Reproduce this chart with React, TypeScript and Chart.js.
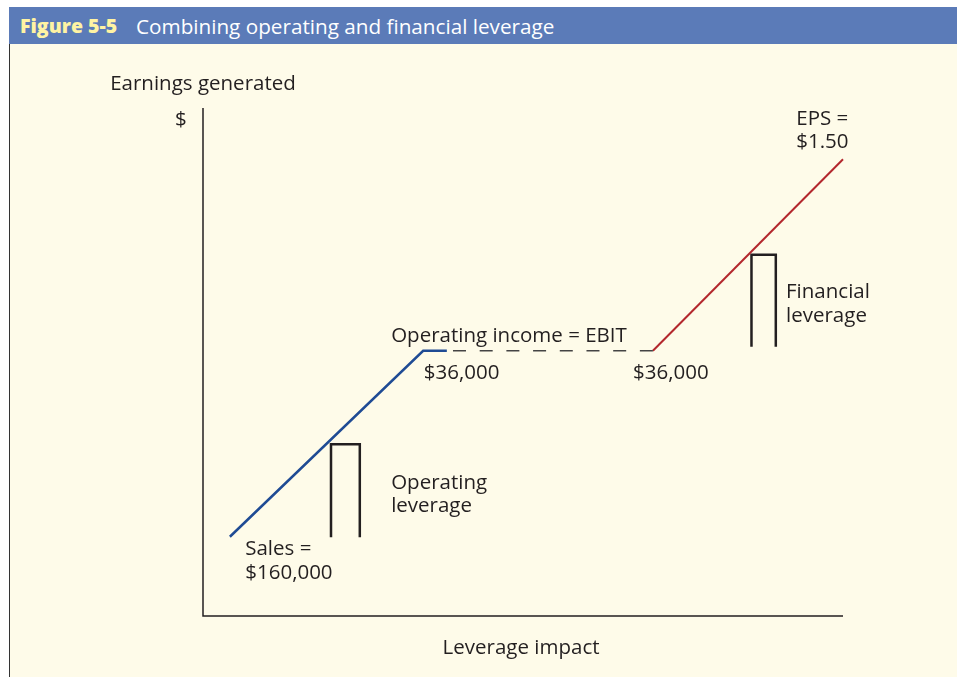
import React, { useEffect, useRef } from "react";
import { Chart, registerables } from "chart.js";

Chart.register(...registerables);

// Abstract "leverage impact" (x) and "earnings generated" (y) units, 0..100
const operatingX = [4.2, 34.4, 38.1];
const operatingY = [15.6, 52.2, 52.2];
const ebitX = [39.06, 70.3];
const ebitY = [52.2, 52.2];
const financialX = [70.3, 100];
const financialY = [52.2, 89.9];
const opBracketX = [20, 20, 24.5, 24.5];
const opBracketY = [15.5, 33.8, 33.8, 15.5];
const finBracketX = [85.7, 85.7, 89.5, 89.5];
const finBracketY = [53.0, 71.1, 71.1, 53.0];

const labelTexts = [
  "Earnings generated",
  "$",
  "Leverage impact",
  "Operating income = EBIT",
  "$36,000",
  "$36,000",
  "Operating",
  "leverage",
  "Sales =",
  "$160,000",
  "EPS =",
  "$1.50",
  "Financial",
  "leverage",
];
const labelX = [-14.5, -3.45, 49.7, 29.4, 34.5, 67.2, 29.4, 29.4, 6.6, 6.6, 92.7, 92.7, 91.1, 91.1];
const labelY = [104.6, 97.6, -6.4, 55.0, 47.9, 47.9, 26.1, 21.6, 13.1, 8.4, 97.9, 93.2, 63.7, 59.0];
const labelAlign = ["left", "center", "center", "left", "left", "left", "left", "left", "left", "left", "left", "left", "left", "left"];

const pts = (xs: number[], ys: number[]) => xs.map((x, i) => ({ x, y: ys[i] }));

const TEXT = "#231F20";
const FONT = '20.5px "Open Sans"';

const overlayPlugin = {
  id: "overlay",
  beforeDatasetsDraw(chart: any) {
    const { ctx, chartArea } = chart;
    ctx.save();
    ctx.strokeStyle = TEXT;
    ctx.lineWidth = 1.5;
    ctx.beginPath();
    ctx.moveTo(chartArea.left, chartArea.top);
    ctx.lineTo(chartArea.left, chartArea.bottom);
    ctx.lineTo(chartArea.right, chartArea.bottom);
    ctx.stroke();
    ctx.restore();
  },
  afterDatasetsDraw(chart: any) {
    const { ctx, scales } = chart;
    ctx.save();
    ctx.fillStyle = TEXT;
    ctx.font = FONT;
    ctx.textBaseline = "middle";
    labelTexts.forEach((t, i) => {
      ctx.textAlign = labelAlign[i] as CanvasTextAlign;
      ctx.fillText(t, scales.x.getPixelForValue(labelX[i]), scales.y.getPixelForValue(labelY[i]));
    });
    ctx.restore();
  },
};

export default function App() {
  const ref = useRef<HTMLCanvasElement | null>(null);
  useEffect(() => {
    if (!ref.current) return;
    const base = { pointRadius: 0, fill: false, showLine: true, clip: false as any, borderCapStyle: "butt" as const };
    const chart = new Chart(ref.current, {
      type: "scatter",
      data: {
        datasets: [
          { ...base, data: pts(operatingX, operatingY), borderColor: "#1F4B94", borderWidth: 2.5 },
          { ...base, data: pts(ebitX, ebitY), borderColor: "#444444", borderWidth: 1.6, borderDash: [13, 13.7] },
          { ...base, data: pts(financialX, financialY), borderColor: "#B3272D", borderWidth: 2 },
          { ...base, data: pts(opBracketX, opBracketY), borderColor: TEXT, borderWidth: 2.5, borderJoinStyle: "miter" },
          { ...base, data: pts(finBracketX, finBracketY), borderColor: TEXT, borderWidth: 2.5, borderJoinStyle: "miter" },
        ],
      },
      options: {
        animation: false,
        responsive: false,
        layout: { padding: { left: 203, right: 114, top: 108, bottom: 61 } },
        plugins: { legend: { display: false }, tooltip: { enabled: false } },
        scales: {
          x: { type: "linear", min: 0, max: 100, display: false },
          y: { type: "linear", min: 0, max: 100, display: false },
        },
      },
      plugins: [overlayPlugin],
    });
    return () => chart.destroy();
  }, []);

  return (
    <div>
      <div
        style={{
          position: "fixed",
          left: 9,
          top: 44,
          right: 0,
          bottom: 0,
          background: "#FEFBE9",
          borderLeft: "1px solid #333",
        }}
      />
      <div
        style={{
          position: "fixed",
          left: 9,
          top: 7,
          right: 0,
          height: 37,
          background: "#5B7BB8",
          fontFamily: '"Open Sans", sans-serif',
          fontSize: 20.7,
          lineHeight: "38px",
          whiteSpace: "nowrap",
        }}
      >
        <span style={{ position: "absolute", left: 11, color: "#FFF3A3", fontWeight: 800, fontSize: 19.5 }}>Figure 5-5</span>
        <span style={{ position: "absolute", left: 127, color: "#FFFFFF" }}>Combining operating and financial leverage</span>
      </div>
      <canvas
        ref={ref}
        width={957}
        height={677}
        style={{ position: "fixed", left: 0, top: 0, width: 957, height: 677, pointerEvents: "none" }}
      />
    </div>
  );
}
